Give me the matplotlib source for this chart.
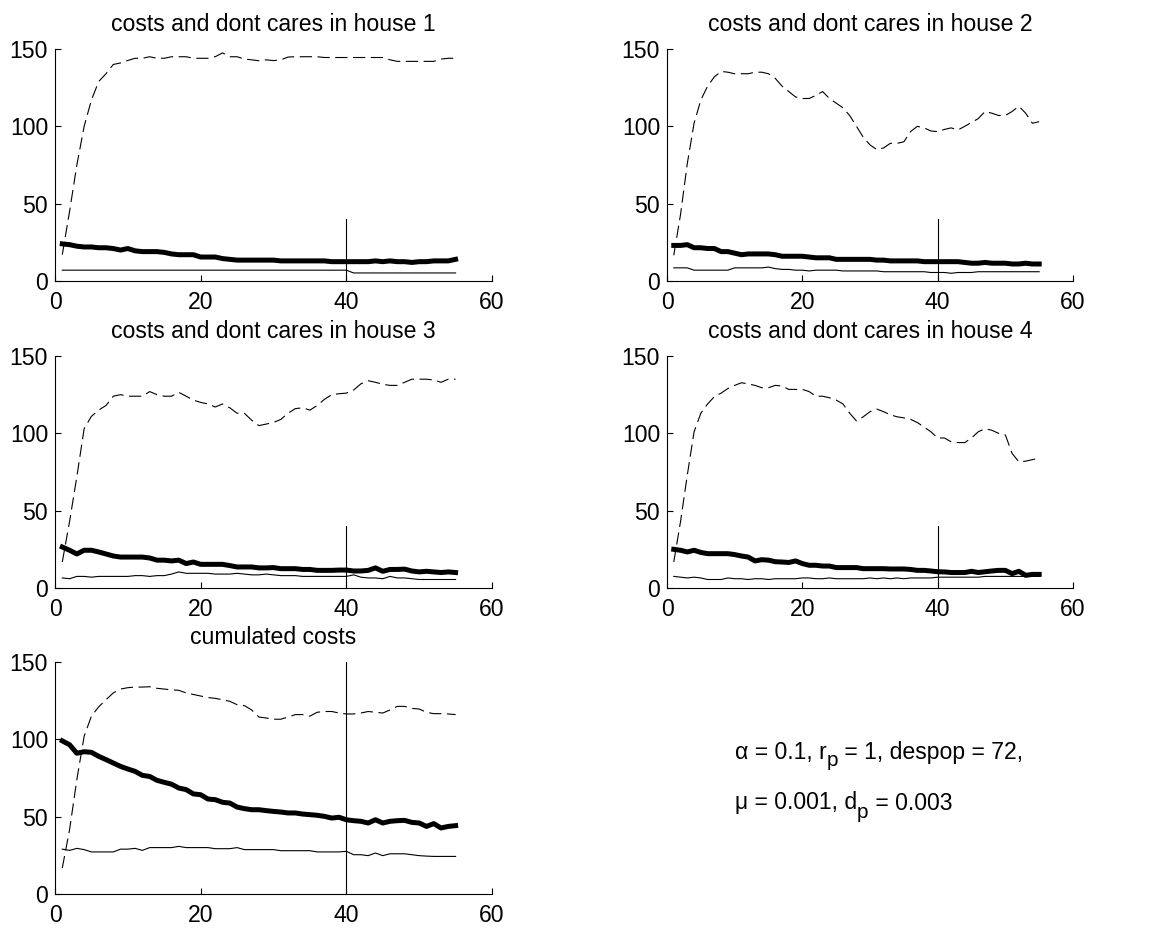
import numpy as np
import matplotlib
matplotlib.use("Agg")
import matplotlib.pyplot as plt

plt.rcParams['font.family'] = ['Liberation Sans', 'DejaVu Sans']

# generations
gen = np.arange(1, 56)

# house 1
h1_dontcare = [17, 45, 75, 100, 117, 129, 134, 140, 141, 142.6,
               144, 144, 145, 144, 144, 145, 145, 145, 144, 144,
               144, 145, 147.5, 145, 145, 143.5, 143, 142.4, 143, 142.5,
               143, 144.8, 145, 145, 145, 145, 144.5, 144.5, 144.5, 144.5,
               144.5, 144.5, 144.5, 144.5, 144.5, 143, 142, 142, 142, 142,
               142, 142, 143.5, 144, 144]
h1_cost = [24, 23.5, 22.5, 22, 22, 21.5, 21.5, 21, 20, 21,
           19.5, 19, 19, 19, 18.5, 17.5, 17, 17, 17, 15.5,
           15.5, 15.5, 14.5, 14, 13.5, 13.5, 13.5, 13.5, 13.5, 13.5,
           13, 13, 13, 13, 13, 13, 13, 12.5, 12.5, 12.5,
           12.5, 12.5, 12.5, 13, 12.5, 13, 12.5, 12.5, 12, 12.5,
           12.5, 13, 13, 13, 14]
h1_thin = [7] * 40 + [5.2] * 15

# house 2
h2_dontcare = [16.6, 43, 76, 102, 117, 126, 132, 135.5, 135, 134,
               134, 134, 135, 135, 134, 131, 126, 122.5, 119, 118,
               118, 120, 122.5, 118, 115, 112, 107, 100, 93, 88,
               85, 86, 89, 89, 90, 96.6, 100, 99, 97, 96.6,
               98, 99, 97.7, 100, 102.5, 105, 109.6, 108.5, 107, 107,
               109.6, 113, 108.5, 102, 103]
h2_cost = [23, 23, 23.5, 21.5, 21.5, 21, 21, 19, 19, 18,
           17, 17.5, 17.5, 17.5, 17.5, 17, 16, 16, 16, 16,
           15.5, 15, 15, 15, 14, 14, 14, 14, 14, 14,
           13.5, 13.5, 13, 13, 13, 13, 13, 12.5, 12.5, 12.5,
           12.5, 12.5, 12.5, 12, 11.5, 11.5, 12, 11.5, 11.5, 11.5,
           11, 11, 11.5, 11, 11]
h2_thin = [8.5, 8.5, 8.5, 7, 7, 7, 7, 7, 7, 8.5,
           8.5, 8.5, 8.5, 8.5, 9, 8, 7.5, 7.5, 7, 7,
           6.5, 7, 7, 7, 7, 6.5, 6.5, 6.5, 6.5, 6.5,
           6.5, 6, 6, 6, 6, 6, 6, 6, 5.5, 5.5,
           5.5, 5, 5.5, 5.5, 5.5, 6, 6, 6, 6, 6,
           6, 6, 6, 6, 6]

# house 3
h3_dontcare = [16.8, 43, 72, 103, 111, 115, 118, 124, 125, 124,
               124, 124, 127, 125, 124, 124, 126.5, 124, 121.5, 120,
               119, 117, 119, 116.5, 113, 113, 108.5, 105, 106, 107,
               109, 113, 116, 116.5, 115, 118, 122, 125, 125.6, 126,
               128, 132, 134, 133, 131.7, 131, 131, 133, 135, 135,
               135, 134.5, 133, 135, 135]
h3_cost = [26.5, 24.4, 22, 24.4, 24.4, 23.3, 22, 20.7, 20, 20,
           20, 20, 19.4, 18, 18, 17.5, 18, 15.8, 16.8, 15.3,
           15.3, 15.3, 15.3, 14.5, 13.6, 13.6, 13.6, 13, 13, 13.2,
           12.5, 12.5, 12.5, 12, 12, 11.4, 11.4, 11.4, 11.6, 11.6,
           11, 11, 11.4, 13, 10.8, 12, 12, 12.2, 11, 10.4,
           10.8, 10.4, 10, 10.4, 10]
h3_thin = [6.5, 6, 7.5, 7.5, 7, 7.5, 7.5, 7.5, 7.5, 7.5,
           8, 8, 7.5, 8, 8, 9, 10.4, 9.5, 9.5, 9.5,
           9.5, 9, 9, 9, 9.5, 9, 8.5, 8.5, 9, 8.5,
           8, 8, 8, 7.5, 7.5, 7.5, 7.5, 7.5, 7.5, 7.5,
           8.5, 7, 6.5, 6.5, 6, 7.5, 6.5, 6.5, 6, 5.5,
           5.5, 5.5, 5.5, 5.5, 5.5]

# house 4
h4_dontcare = [16.8, 43, 73, 101, 113, 119, 123.7, 126, 129, 131,
               132.7, 132, 131, 129.5, 129.5, 131, 130.6, 128.4, 128.4, 128.4,
               127, 124, 124, 123, 121.5, 119, 113, 108, 110.7, 114,
               115.7, 114, 112, 110.7, 110, 109, 107, 104, 101, 97,
               97, 94.5, 94, 94, 97, 101, 103, 102, 100, 99,
               87, 81.6, 82, 83, 84]
h4_cost = [25, 24.4, 23.3, 24.4, 23, 22.2, 22.2, 22.2, 22.2, 21.6,
           20.7, 20, 17.5, 18.3, 18, 17, 16.8, 16.5, 17.5, 15.8,
           14.7, 14.7, 14.2, 14.2, 13.2, 13.2, 13.2, 13.2, 12.5, 12.5,
           12.5, 12.5, 12.3, 12.3, 12.3, 12, 11.4, 11.4, 11, 10.5,
           10.4, 10, 10, 10, 10.8, 10, 10.5, 11, 11.4, 11.4,
           9.3, 10.8, 8.2, 8.8, 8.8]
h4_thin = [7.5, 7, 6.5, 7, 6.5, 5.5, 5.5, 5.5, 6.5, 6,
           6, 5.5, 6, 6, 5.5, 6, 6, 6, 6, 6.5,
           6.5, 6, 6, 6.5, 6, 6, 6, 6, 6, 6.5,
           6, 6.5, 6, 6.5, 6, 6.5, 6.5, 6.5, 6.5, 7,
           7, 7, 7, 7, 7, 7, 7.5, 7.5, 7.5, 7.5,
           7.5, 7.5, 7.5, 7.5, 7.5]

# cumulated
cum_dontcare = [16.8, 41.6, 74, 102, 115, 121, 125.6, 130, 132.5, 133.4,
                133.8, 133.8, 134, 133, 132.5, 132, 131.7, 130, 129, 128,
                127, 126.5, 125.6, 124.6, 122.4, 121.8, 119, 114.4, 113.8, 113,
                113, 114.4, 116, 116, 115, 117.5, 118, 118, 117, 116.4,
                116.4, 117, 118, 117.5, 117, 119, 121.3, 121.3, 120, 119.6,
                117.5, 116.6, 116.6, 116.4, 116]
cum_cost = [99, 96.5, 91, 92, 91.6, 89, 86.9, 84.7, 82.5, 80.8,
            79.3, 76.7, 76, 73.5, 72.2, 71, 68.5, 67.5, 64.7, 64.2,
            61.4, 61, 59.3, 58.8, 56.2, 55.2, 54.5, 54.5, 53.9, 53.4,
            53, 52.4, 52.4, 51.7, 51.3, 50.9, 50.2, 49.1, 49.6, 48,
            47.4, 47, 45.9, 48, 45.9, 47, 47.4, 47.6, 46.3, 45.9,
            43.7, 45.5, 42.7, 43.7, 44.2]
cum_thin = [29, 28.2, 29.5, 28.7, 27.2, 27.2, 27.2, 27.2, 29, 29,
            29.5, 28.2, 30, 30, 30, 30, 30.8, 30, 30, 30,
            30, 29.3, 29.3, 29.3, 30, 28.7, 28.7, 28.7, 28.7, 28.7,
            28, 28, 28, 28, 28, 27.2, 27.2, 27.2, 27.2, 27.6,
            25.4, 25.4, 24.8, 26.5, 24.8, 26, 26, 26, 25.4, 24.8,
            24.5, 24.3, 24.3, 24.3, 24.3]

titles = ["costs and dont cares in house 1", "costs and dont cares in house 2",
          "costs and dont cares in house 3", "costs and dont cares in house 4",
          "cumulated costs"]
panels = [(h1_dontcare, h1_cost, h1_thin), (h2_dontcare, h2_cost, h2_thin),
          (h3_dontcare, h3_cost, h3_thin), (h4_dontcare, h4_cost, h4_thin),
          (cum_dontcare, cum_cost, cum_thin)]
marker_gen = 40
marker_top = [40, 40, 40, 40, 150]

# parameter text, pieces with (string, lowered?)
param_lines = [
    [("α = 0.1, r", False), ("p", True), (" = 1, despop = 72,", False)],
    [("μ = 0.001, d", False), ("p", True), (" = 0.003", False)],
]

W, H = 1160, 931
# axes boxes in pixels: left, top, right, bottom
boxes = [(55, 49, 492, 281), (667, 49, 1073, 281),
         (55, 356, 492, 588), (667, 356, 1073, 588),
         (55, 662, 492, 894)]

fig = plt.figure(figsize=(W / 100, H / 100), dpi=100)
fs = 16.6

for (l, t, r, b), title, (dc, cost, thin), top in zip(boxes, titles, panels, marker_top):
    ax = fig.add_axes([l / W, 1 - b / H, (r - l) / W, (b - t) / H])
    ax.plot(gen, dc, color='black', lw=0.8, dashes=(11, 5))
    ax.plot(gen, cost, color='black', lw=3.6, solid_joinstyle='round')
    ax.plot(gen, thin, color='black', lw=0.8)
    ax.plot([marker_gen, marker_gen], [0, top], color='black', lw=0.8)
    ax.set_xlim(0, 60)
    ax.set_ylim(0, 150)
    ax.set_xticks([0, 20, 40, 60])
    ax.set_yticks([0, 50, 100, 150])
    ax.spines['top'].set_visible(False)
    ax.spines['right'].set_visible(False)
    for s in ('left', 'bottom'):
        ax.spines[s].set_linewidth(0.8)
    ax.tick_params(direction='in', length=4, width=0.8, labelsize=fs)
    ax.tick_params(axis='x', pad=7)
    ax.tick_params(axis='y', pad=5)
    ax.set_title(title, fontsize=fs, pad=13)

# chain text pieces, with the subscript lowered like the original
renderer = fig.canvas.get_renderer()
for line, yc in zip(param_lines, [752, 803]):
    x = 735
    for s, low in line:
        y = yc + (9 if low else 0)
        t = fig.text(x / W, 1 - y / H, s, fontsize=fs * (0.9 if low else 1),
                     va='center', ha='left')
        x += t.get_window_extent(renderer).width

fig.savefig("out.png", dpi=100)
